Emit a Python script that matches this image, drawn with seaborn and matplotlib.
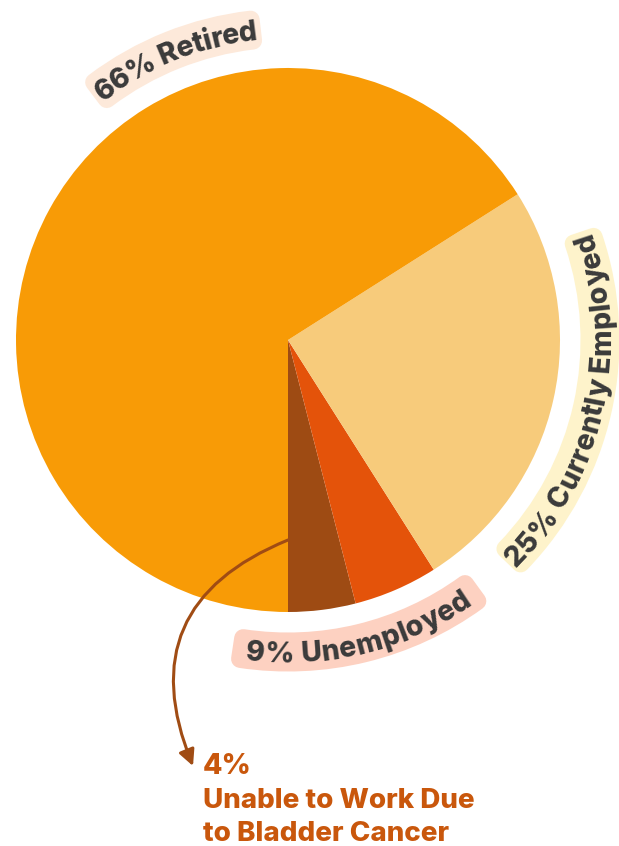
import numpy as np
import matplotlib
matplotlib.use("Agg")
import matplotlib.pyplot as plt
from matplotlib import font_manager, ft2font
from matplotlib.patches import Wedge
import seaborn as sns

# Employment status shares (percent)
categories = ["Retired", "Currently Employed", "Unemployed"]
shares = [66, 25, 9]
# part of the unemployed share
unable_share = 4
unable_lines = ["Unable to Work Due", "to Bladder Cancer"]

sns.set_theme(style="white")
FONT = "Inter"
WEIGHT = 800
plt.rcParams["font.family"] = [FONT, "DejaVu Sans"]

DPI = 100
PX = 272.0                      # pixels per data unit (pie radius = 1)
PT_PER_UNIT = PX * 72 / DPI     # points per data unit

fig = plt.figure(figsize=(6.19, 8.46), dpi=DPI)
fig.patch.set_facecolor("white")
ax = fig.add_axes([0, 0, 1, 1])

retired, employed, unemployed = shares
slice_values = [unable_share, unemployed - unable_share, employed, retired]
slice_colors = ["#9E4B13", "#E4530A", "#F7CB7B", "#F89B06"]
ax.pie(slice_values, colors=slice_colors, startangle=270, counterclock=True,
       radius=1.0, center=(0, 0), wedgeprops=dict(linewidth=0))
ax.set_xlim(-288 / PX, (619 - 288) / PX)
ax.set_ylim(-(846 - 340) / PX, 340 / PX)
ax.set_aspect("equal")
ax.axis("off")

# glyph advances for laying text along an arc
font_path = font_manager.findfont(font_manager.FontProperties(family=FONT, weight=WEIGHT))
ftfont = ft2font.FT2Font(font_path)
try:
    NOHINT = ft2font.LoadFlags.NO_HINTING
except AttributeError:
    NOHINT = ft2font.LOAD_NO_HINTING


def advances(text, size):
    ftfont.set_size(size, 72)
    return np.array([ftfont.load_char(ord(c), flags=NOHINT).linearHoriAdvance / 65536
                     for c in text]) / PT_PER_UNIT


def arc_label(text, a0, a1, band_color, size, outward, r=312 / PX,
              thick=39 / PX, corner=9 / PX, color="#3A3A3A", track=0.0):
    da = np.degrees(corner / r)
    ax.add_patch(Wedge((0, 0), r + thick / 2 - corner, a0 + da, a1 - da,
                       width=thick - 2 * corner, facecolor=band_color,
                       edgecolor=band_color, lw=2 * corner * PT_PER_UNIT,
                       joinstyle="round", zorder=3))
    adv = advances(text, size) + track / PT_PER_UNIT
    cap = 0.727 * size / PT_PER_UNIT
    mid = np.radians((a0 + a1) / 2)
    s = np.cumsum(adv) - adv / 2 - adv.sum() / 2
    if outward:     # reads clockwise, letter tops away from the centre
        ang = mid - s / r
        rb = r - cap / 2
        rot = np.degrees(ang) - 90
    else:           # reads counter-clockwise, letter tops toward the centre
        ang = mid + s / r
        rb = r + cap / 2
        rot = np.degrees(ang) + 90
    for ch, a, ro in zip(text, ang, rot):
        ax.text(rb * np.cos(a), rb * np.sin(a), ch, rotation=ro % 360,
                rotation_mode="anchor", ha="center", va="baseline",
                fontsize=size, fontweight=WEIGHT, color=color, zorder=4)


arc_label(f"{retired}% {categories[0]}", 95.0, 128.6, "#FDE9DA", 20.5, True)
arc_label(f"{employed}% {categories[1]}", -45.5, 20.3, "#FEF3CB", 20.5, False)
arc_label(f"{unemployed}% {categories[2]}", 259.8, 307.6, "#FDD1C1", 20.5, False)

# callout for the bladder-cancer share
accent = "#C9570C"
x_text = (203 - 288) / PX
ax.text(x_text, (340 - 774) / PX, f"{unable_share}%", ha="left", va="baseline",
        fontsize=20.5, fontweight=WEIGHT, color=accent)
for line, base in zip(unable_lines, [808, 841]):
    ax.text(x_text, (340 - base) / PX, line, ha="left", va="baseline",
            fontsize=20, fontweight=WEIGHT, color=accent)

ax.annotate("", xy=((193 - 288) / PX, (340 - 766) / PX),
            xytext=(0, (340 - 540) / PX),
            arrowprops=dict(arrowstyle="-|>", color="#A04C14", lw=2.2,
                            mutation_scale=24, shrinkA=0, shrinkB=0,
                            connectionstyle="arc3,rad=0.5"),
            zorder=5)

fig.savefig("out.png", dpi=DPI, facecolor="white")
